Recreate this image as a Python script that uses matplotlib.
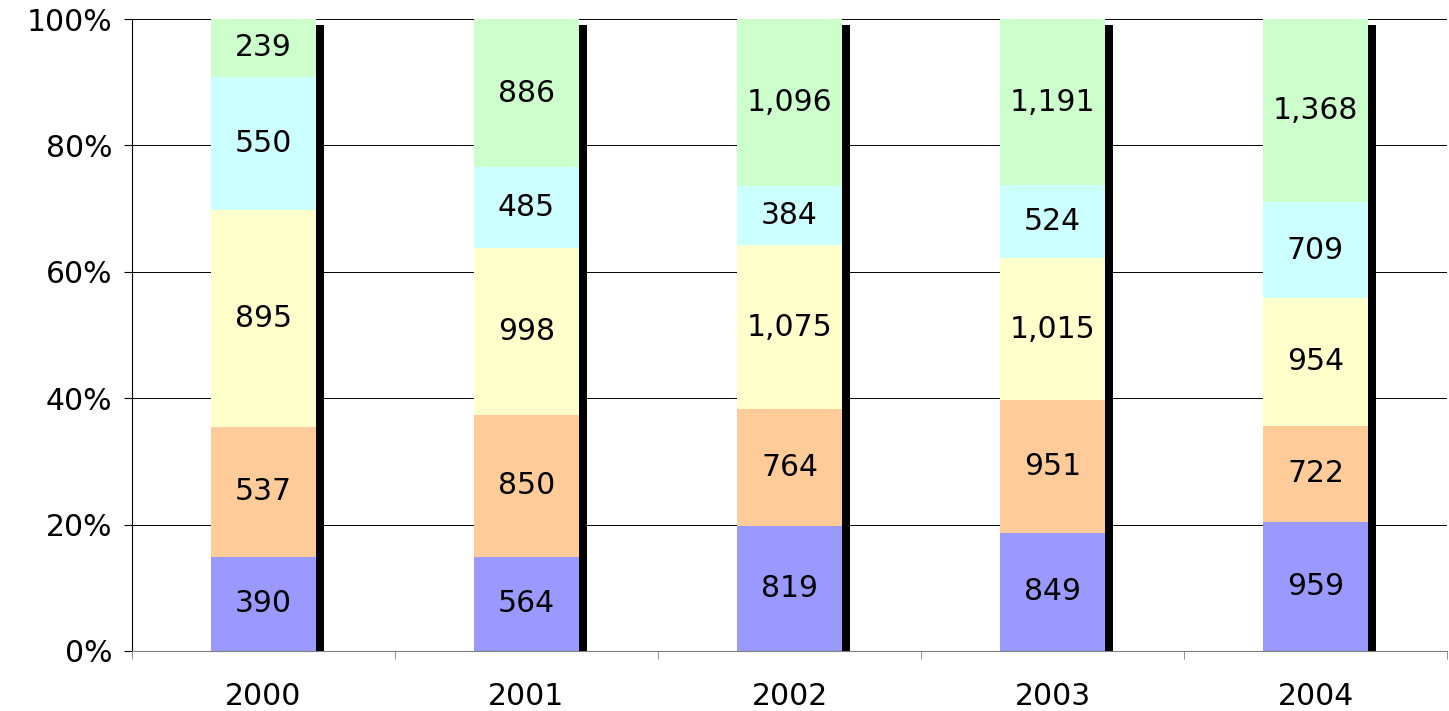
import matplotlib.pyplot as plt
import numpy as np
from matplotlib.ticker import FuncFormatter

years = ["2000", "2001", "2002", "2003", "2004"]
s1 = [390, 564, 819, 849, 959]
s2 = [537, 850, 764, 951, 722]
s3 = [895, 998, 1075, 1015, 954]
s4 = [550, 485, 384, 524, 709]
s5 = [239, 886, 1096, 1191, 1368]
series = [s1, s2, s3, s4, s5]
colors = ["#9999FF", "#FFCC99", "#FFFFCC", "#CCFFFF", "#CCFFCC"]

plt.rcParams['font.family'] = ['DejaVu Sans']

fig = plt.figure(figsize=(14.49, 7.11), dpi=100)
ax = fig.add_axes([132/1449, 60/711, 1315/1449, 632/711])

x = np.arange(len(years))
vals = np.array(series, dtype=float)
tot = vals.sum(axis=0)
frac = vals / tot

w = 0.4
# black shadow to the right of each bar
ax.bar(x + w/2 + 0.015, [0.99]*len(x), width=0.03, color="black", zorder=1)

bottom = np.zeros(len(x))
for i, f in enumerate(frac):
    ax.bar(x, f, w, bottom=bottom, color=colors[i], zorder=2)
    for j in range(len(x)):
        ax.text(x[j], bottom[j] + f[j]/2, f"{int(vals[i][j]):,}",
                ha="center", va="center", fontsize=21.5, zorder=3)
    bottom += f

ax.set_xlim(-0.5, len(x) - 0.5)
ax.set_ylim(0, 1)
ax.set_yticks(np.arange(0, 1.01, 0.2))
ax.yaxis.set_major_formatter(FuncFormatter(lambda v, p: f"{int(round(v*100))}%"))
ax.yaxis.grid(True, color="black", linewidth=0.7, zorder=0)
ax.set_axisbelow(True)

ax.set_xticks(x)
ax.set_xticklabels(years)
ax.set_xticks(np.arange(-0.5, len(x), 1), minor=True)
ax.tick_params(axis="x", which="major", length=0, pad=22, labelsize=21.5)
ax.tick_params(axis="x", which="minor", length=6, color="#808080")
ax.tick_params(axis="y", length=6, labelsize=21.5, pad=8)

for s in ["top", "right"]:
    ax.spines[s].set_visible(False)
ax.spines["bottom"].set_color("#808080")
ax.spines["left"].set_color("black")

fig.savefig("out.png", dpi=100)
